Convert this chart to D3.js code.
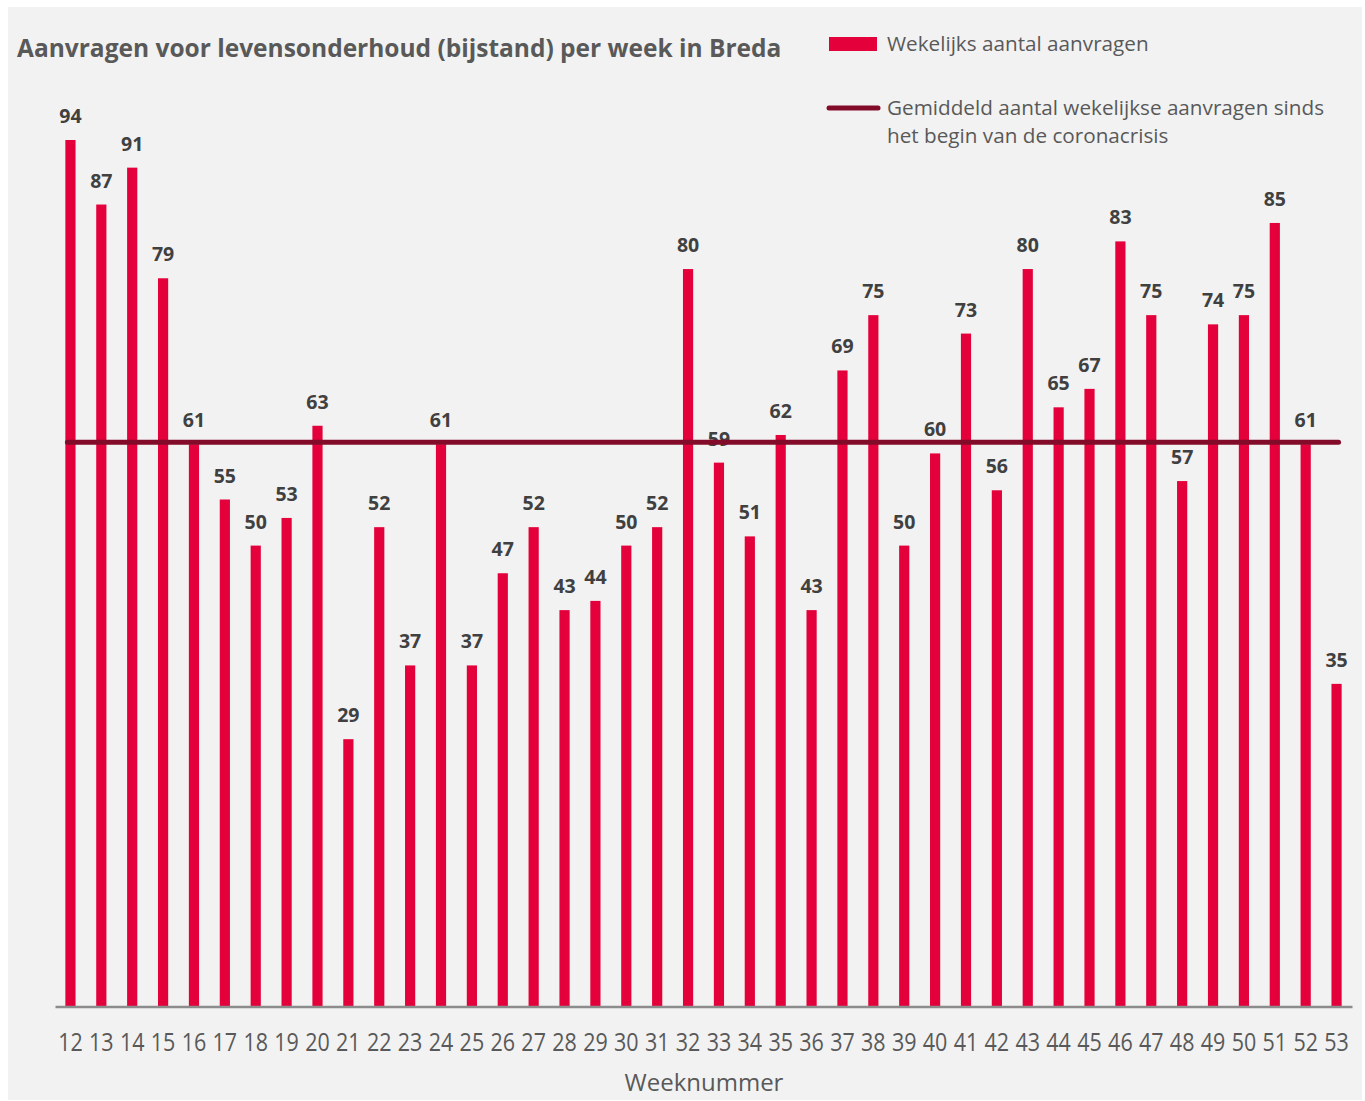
<!DOCTYPE html>
<html><head><meta charset="utf-8">
<script src="https://cdn.jsdelivr.net/npm/d3@7"></script>
<style>
html,body{margin:0;padding:0;background:#fff;}
svg{display:block;font-family:"Open Sans",Lato,sans-serif;}
</style></head>
<body><svg id="c" width="1365" height="1101"></svg>
<script>
const weeks = ["12","13","14","15","16","17","18","19","20","21","22","23","24","25","26","27","28","29","30","31","32","33","34","35","36","37","38","39","40","41","42","43","44","45","46","47","48","49","50","51","52","53"];
const weeklyRequests = [94,87,91,79,61,55,50,53,63,29,52,37,61,37,47,52,43,44,50,52,80,59,51,62,43,69,75,50,60,73,56,80,65,67,83,75,57,74,75,85,61,35];
const averageRequests = 61.2;
const titleText = "Aanvragen voor levensonderhoud (bijstand) per week in Breda";
const legendBar = "Wekelijks aantal aanvragen";
const legendLine = ["Gemiddeld aantal wekelijkse aanvragen sinds","het begin van de coronacrisis"];
const xTitle = "Weeknummer";

const svg = d3.select("#c");
const barColor = "#e4003a", lineColor = "#830b2a", textDark = "#404040", textGray = "#595959";

svg.append("rect").attr("x",8).attr("y",7).attr("width",1354).attr("height",1093).attr("fill","#f2f2f2");

const x = d3.scaleBand().domain(weeks).range([55,1352]).paddingInner(0.67).paddingOuter(0.335);
const y = d3.scaleLinear().domain([0,94]).range([1006.5,140]);

// bars
svg.append("g").selectAll("rect").data(weeklyRequests).join("rect")
  .attr("x",(d,i)=>x(weeks[i])).attr("width",x.bandwidth())
  .attr("y",d=>y(d)).attr("height",d=>y(0)-y(d)).attr("fill",barColor);

// value labels
svg.append("g").selectAll("text").data(weeklyRequests).join("text")
  .attr("x",(d,i)=>x(weeks[i])+x.bandwidth()/2).attr("y",d=>y(d)-17)
  .attr("text-anchor","middle").attr("font-size",19.5).attr("font-weight","bold")
  .attr("fill",textDark).text(d=>d);

// axis
const xAxis = d3.axisBottom(x).tickSize(0).tickPadding(27);
const gx = svg.append("g").attr("transform",`translate(0,${y(0)})`).call(xAxis);
gx.select(".domain").attr("stroke","#8c8c8c").attr("stroke-width",2.5);
gx.selectAll("text").attr("font-size",25).attr("fill",textGray)
  .attr("font-family","\"Open Sans\",sans-serif").attr("transform","scale(0.86,1)");

// average line
const c0 = x(weeks[0])+x.bandwidth()/2 - 3, c1 = x(weeks[weeks.length-1])+x.bandwidth()/2 + 2;
svg.append("line").attr("x1",c0).attr("x2",c1).attr("y1",y(averageRequests)).attr("y2",y(averageRequests))
  .attr("stroke",lineColor).attr("stroke-width",5).attr("stroke-linecap","round");

// title
svg.append("text").attr("x",17).attr("y",57).attr("font-size",24.5).attr("font-weight","bold")
  .attr("fill",textGray).text(titleText);

// x title
svg.append("text").attr("x",704).attr("y",1091).attr("text-anchor","middle").attr("font-size",24)
  .attr("fill",textGray).text(xTitle);

// legend
svg.append("rect").attr("x",829).attr("y",37).attr("width",48).attr("height",14).attr("fill",barColor);
svg.append("text").attr("x",887).attr("y",51).attr("font-size",20.7).attr("fill",textGray).text(legendBar);
svg.append("line").attr("x1",829).attr("x2",878).attr("y1",108).attr("y2",108)
  .attr("stroke",lineColor).attr("stroke-width",5).attr("stroke-linecap","round");
svg.append("text").attr("x",887).attr("y",115).attr("font-size",20.7).attr("fill",textGray).text(legendLine[0]);
svg.append("text").attr("x",887).attr("y",143).attr("font-size",20.7).attr("fill",textGray).text(legendLine[1]);
</script></body></html>
